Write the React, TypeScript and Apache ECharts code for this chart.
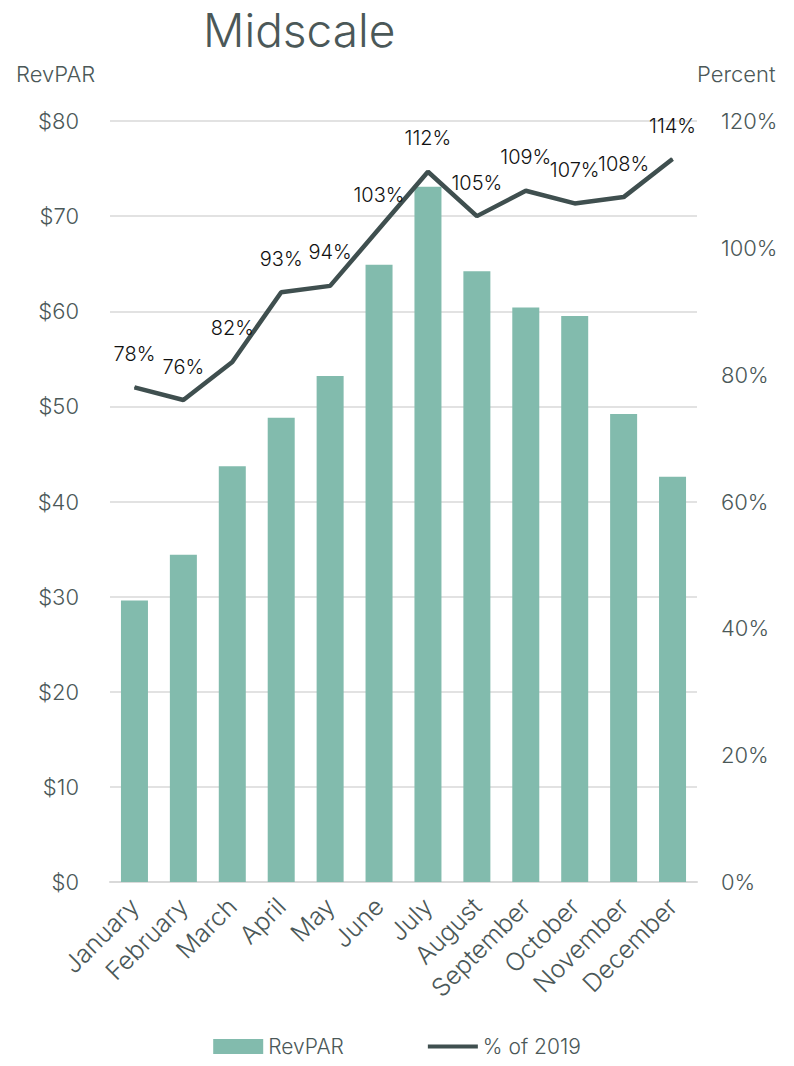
import React, { useEffect, useRef } from "react";
import * as echarts from "echarts";

const months = ["January","February","March","April","May","June","July","August","September","October","November","December"];
const revpar = [29.6, 34.4, 43.7, 48.8, 53.2, 64.9, 73.1, 64.2, 60.4, 59.5, 49.2, 42.6];
const pctOf2019 = [78, 76, 82, 93, 94, 103, 112, 105, 109, 107, 108, 114];

const FONT = "Inter";
const TXT = "#4b5858";
const LINE = "#3f4f4f";

export default function App() {
  const ref = useRef<HTMLDivElement>(null);
  useEffect(() => {
    document.body.style.margin = "0";
    const chart = echarts.init(ref.current!, null, { renderer: "svg" });
    chart.setOption({
      animation: false,
      textStyle: { fontFamily: FONT },
      title: {
        text: "Midscale",
        left: 198,
        top: 0,
        textStyle: { fontFamily: FONT, fontSize: 46, fontWeight: 300, color: TXT, lineHeight: 50 },
      },
      grid: { left: 110, right: 97, top: 121, bottom: 184 },
      graphic: [
        { type: "text", left: 16, top: 63, style: { text: "RevPAR", font: `300 22px ${FONT}`, fill: TXT } },
        { type: "text", left: 697, top: 63, style: { text: "Percent", font: `300 22px ${FONT}`, fill: TXT } },
      ],
      legend: {
        bottom: 4,
        left: "center",
        itemGap: 84,
        itemWidth: 50,
        itemHeight: 15,
        textStyle: { fontSize: 21, color: TXT, fontFamily: FONT, fontWeight: 300 },
        data: [
          { name: "RevPAR", icon: "rect" },
          { name: "% of 2019", icon: "path://M0,0 H60 V5 H0 Z" },
        ],
      },
      xAxis: {
        type: "category",
        data: months,
        axisLine: { lineStyle: { color: "#d9d9d9", width: 2 } },
        axisTick: { show: false },
        axisLabel: { rotate: 45, fontSize: 25, fontWeight: 300, color: TXT, margin: 20, interval: 0 },
      },
      yAxis: [
        {
          type: "value",
          min: 0,
          max: 80,
          interval: 10,
          axisLabel: { formatter: (v: number) => "$" + v, fontSize: 22, fontWeight: 300, color: TXT, margin: 31 },
          splitLine: { lineStyle: { color: "#d9d9d9", width: 1.5 } },
          axisLine: { show: false },
          axisTick: { show: false },
        },
        {
          type: "value",
          min: 0,
          max: 120,
          interval: 20,
          axisLabel: { formatter: "{value}%", fontSize: 22, fontWeight: 300, color: TXT, margin: 24 },
          splitLine: { show: false },
          axisLine: { show: false },
          axisTick: { show: false },
        },
      ],
      series: [
        {
          name: "RevPAR",
          type: "bar",
          data: revpar,
          barWidth: 27,
          itemStyle: { color: "#82bbad" },
        },
        {
          name: "% of 2019",
          type: "line",
          yAxisIndex: 1,
          data: pctOf2019,
          showSymbol: true,
          symbol: "circle",
          symbolSize: 1,
          lineStyle: { color: LINE, width: 4.5 },
          itemStyle: { color: LINE },
          label: {
            show: true,
            position: "top",
            distance: 23,
            formatter: "{c}%",
            fontSize: 20,
            fontWeight: 300,
            color: "#111111",
          },
        },
      ],
    });
    return () => chart.dispose();
  }, []);
  return <div ref={ref} style={{ width: 794, height: 1066 }} />;
}
